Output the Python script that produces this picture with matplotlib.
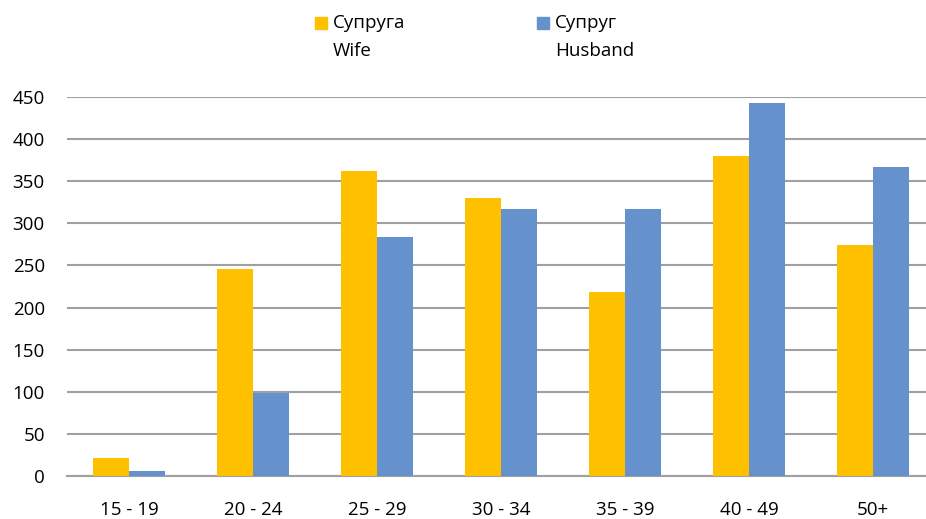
import matplotlib.pyplot as plt
import numpy as np
from matplotlib.patches import Rectangle

categories = ["15 - 19", "20 - 24", "25 - 29", "30 - 34", "35 - 39", "40 - 49", "50+"]
wife = [21, 246, 362, 330, 218, 380, 274]
husband = [6, 98, 284, 317, 317, 443, 367]
yticks = [0, 50, 100, 150, 200, 250, 300, 350, 400, 450]

WIFE_COLOR = "#FFC000"
HUSBAND_COLOR = "#6591CC"

plt.rcParams["font.family"] = ["Open Sans", "DejaVu Sans"]


def main():
    fig = plt.figure(figsize=(9.26, 5.19), dpi=100)
    W, H = 926, 519
    ax = fig.add_axes([67 / W, 43 / H, (926 - 67) / W, (476 - 97) / H])

    x = np.arange(len(categories))
    bw = 0.29
    ax.bar(x - bw / 2, wife, width=bw, color=WIFE_COLOR, zorder=3)
    ax.bar(x + bw / 2, husband, width=bw, color=HUSBAND_COLOR, zorder=3)

    ax.set_xlim(-0.5, 6.5 - 9 / 124)
    ax.set_ylim(0, 450)
    ax.set_yticks(yticks)
    ax.set_xticks(x)
    ax.set_xticklabels(categories)
    ax.yaxis.grid(True, color="#A0A0A0", linewidth=1.5, zorder=0)
    ax.set_axisbelow(True)
    for s in ax.spines.values():
        s.set_visible(False)
    ax.axhline(0, color="#A0A0A0", linewidth=1.5, zorder=2, clip_on=False)
    ax.tick_params(axis="both", length=0, labelsize=13.5, colors="#000000")
    ax.tick_params(axis="y", pad=16)
    ax.tick_params(axis="x", pad=18)

    # legend (two-line labels, marker next to first line)
    for px, col, l1, l2 in [(315, WIFE_COLOR, "Супруга", "Wife"),
                            (537, HUSBAND_COLOR, "Супруг", "Husband")]:
        fig.patches.append(Rectangle((px / W, 1 - 29 / H), 12 / W, 12 / H,
                                     transform=fig.transFigure, color=col))
        fig.text((px + 18) / W, 1 - 23 / H, l1, fontsize=13.5, va="center")
        fig.text((px + 18) / W, 1 - 51 / H, l2, fontsize=13.5, va="center")

    fig.savefig("out.png", dpi=100)


if __name__ == "__main__":
    main()
